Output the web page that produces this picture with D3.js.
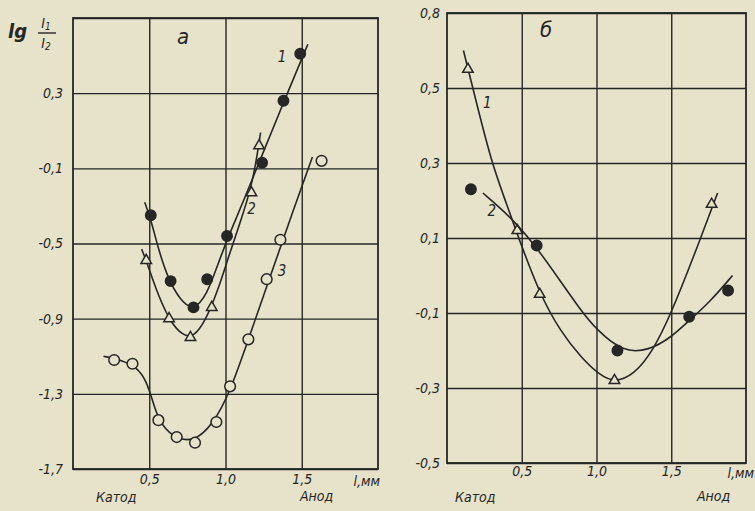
<!DOCTYPE html>
<html>
<head>
<meta charset="utf-8">
<script src="https://cdn.jsdelivr.net/npm/d3@7"></script>
<style>
  body { margin: 0; background: #e7e2ca; }
  svg { display: block; }
  text { font-family: "Liberation Sans Narrow", "DejaVu Sans Condensed", "Liberation Sans", sans-serif; font-style: italic; fill: #262626; }
</style>
</head>
<body>
<script>
const WIDTH = 755;
const HEIGHT = 511;
const INK = "#262626";
const PAPER = "#e7e2ca";

// x ticks, shared by both panels
const xTicks = [0.5, 1.0, 1.5];
const xTickLabels = ["0,5", "1,0", "1,5"];

// panel "a"
const aYTicks = [-1.7, -1.3, -0.9, -0.5, -0.1, 0.3, 0.7];
const aYTickLabels = ["-1,7", "-1,3", "-0,9", "-0,5", "-0,1", "0,3", ""];
const a1Points = [[0.51, -0.35], [0.64, -0.70], [0.79, -0.84], [0.88, -0.69], [1.01, -0.46], [1.24, -0.07], [1.38, 0.26], [1.49, 0.51]];
const a1Curve = [[0.47, -0.28], [0.51, -0.37], [0.56, -0.53], [0.62, -0.68], [0.70, -0.80], [0.79, -0.86], [0.88, -0.77], [0.95, -0.61], [1.02, -0.46], [1.13, -0.25], [1.24, -0.03], [1.39, 0.27], [1.54, 0.56]];
const a2Points = [[0.48, -0.59], [0.63, -0.90], [0.77, -1.00], [0.91, -0.84], [1.17, -0.23], [1.22, 0.02]];
const a2Curve = [[0.45, -0.53], [0.48, -0.59], [0.56, -0.78], [0.64, -0.92], [0.72, -0.99], [0.79, -1.00], [0.87, -0.91], [0.95, -0.75], [1.02, -0.57], [1.10, -0.38], [1.17, -0.20], [1.21, -0.02], [1.23, 0.09]];
const a3Curve = [[0.20, -1.10], [0.32, -1.12], [0.42, -1.16], [0.48, -1.23], [0.52, -1.33], [0.56, -1.44], [0.65, -1.53], [0.79, -1.56], [0.92, -1.46], [1.03, -1.29], [1.15, -1.01], [1.30, -0.66], [1.45, -0.31], [1.57, -0.04]];
const a3Points = [[0.27, -1.12], [0.39, -1.14], [0.56, -1.44], [0.68, -1.53], [0.80, -1.56], [0.94, -1.45], [1.03, -1.26], [1.15, -1.01], [1.27, -0.69], [1.36, -0.48], [1.63, -0.06]];

// panel "б"
const bYTicks = [-0.5, -0.3, -0.1, 0.1, 0.3, 0.5, 0.7];
const bYTickLabels = ["-0,5", "-0,3", "-0,1", "0,1", "0,3", "0,5", "0,8"];
const b1Points = [[0.14, 0.55], [0.47, 0.12], [0.62, -0.05], [1.12, -0.28], [1.77, 0.19]];
const b1Curve = [[0.11, 0.60], [0.21, 0.44], [0.30, 0.30], [0.39, 0.20], [0.47, 0.11], [0.62, -0.05], [0.76, -0.15], [0.90, -0.22], [1.02, -0.265], [1.12, -0.285], [1.25, -0.265], [1.38, -0.20], [1.50, -0.10], [1.64, 0.04], [1.81, 0.22]];
const b2Points = [[0.16, 0.23], [0.60, 0.08], [1.14, -0.20], [1.62, -0.11], [1.88, -0.04]];
const b2Curve = [[0.24, 0.22], [0.43, 0.155], [0.60, 0.075], [0.75, -0.01], [0.89, -0.09], [1.0, -0.145], [1.18, -0.205], [1.35, -0.2], [1.50, -0.165], [1.62, -0.12], [1.76, -0.07], [1.91, 0.0]];

const svg = d3.select("body").append("svg")
    .attr("width", WIDTH)
    .attr("height", HEIGHT);

svg.append("rect").attr("width", WIDTH).attr("height", HEIGHT).attr("fill", PAPER);

function drawPanel(cfg) {
    const x = d3.scaleLinear().domain([0, 2]).range([cfg.left, cfg.right]);
    const y = d3.scaleLinear().domain(cfg.yDomain).range([cfg.bottom, cfg.top]);
    const g = svg.append("g");

    // grid + tick labels come from the axes themselves
    const xAxis = g.append("g")
        .attr("transform", `translate(0,${cfg.bottom})`)
        .call(d3.axisBottom(x)
            .tickValues(xTicks)
            .tickSize(-(cfg.bottom - cfg.top))
            .tickPadding(cfg.xPad)
            .tickFormat((d, i) => xTickLabels[i]));
    const yAxis = g.append("g")
        .attr("transform", `translate(${cfg.left},0)`)
        .call(d3.axisLeft(y)
            .tickValues(cfg.yTicks)
            .tickSize(-(cfg.right - cfg.left))
            .tickPadding(cfg.yPad)
            .tickFormat((d, i) => cfg.yLabels[i]));

    [xAxis, yAxis].forEach(ax => {
        ax.select(".domain").remove();
        ax.selectAll(".tick line").attr("stroke", INK).attr("stroke-width", 1.4);
        ax.selectAll(".tick text")
            .attr("fill", INK)
            .style("font-size", "14px");
        ax.attr("font-family", null).attr("font-size", null);
    });

    g.append("rect")
        .attr("x", cfg.left).attr("y", cfg.top)
        .attr("width", cfg.right - cfg.left)
        .attr("height", cfg.bottom - cfg.top)
        .attr("fill", "none")
        .attr("stroke", INK)
        .attr("stroke-width", 1.8);

    // the drawn curves are smoothed fits, so a B-spline is closer than an interpolating one
    const line = d3.line()
        .x(d => x(d[0]))
        .y(d => y(d[1]))
        .curve(d3.curveBasis);

    cfg.series.forEach(s => {
        g.append("path")
            .attr("d", line(s.curve))
            .attr("fill", "none")
            .attr("stroke", INK)
            .attr("stroke-width", 1.6);

        const marks = g.append("g").selectAll("path")
            .data(s.points)
            .join("path")
            .attr("transform", d => `translate(${x(d[0])},${y(d[1])})`)
            .attr("stroke", INK)
            .attr("stroke-width", 1.5);
        if (s.marker === "dot") {
            marks.attr("d", d3.symbol(d3.symbolCircle, 85)).attr("fill", INK);
        } else if (s.marker === "ring") {
            marks.attr("d", d3.symbol(d3.symbolCircle, 90)).attr("fill", PAPER);
        } else {
            marks.attr("d", d3.symbol(d3.symbolTriangle, 48)).attr("fill", PAPER);
        }

        g.append("text")
            .attr("x", x(s.labelAt[0]))
            .attr("y", y(s.labelAt[1]))
            .attr("text-anchor", "middle")
            .attr("dominant-baseline", "middle")
            .style("font-size", "15px")
            .text(s.name);
    });

    // unit label at the right end of the x axis
    g.append("text")
        .attr("x", x(2) + cfg.unitDx)
        .attr("y", cfg.bottom + cfg.xPad + 12)
        .attr("text-anchor", "end")
        .style("font-size", "14px")
        .text("l,мм");

    g.append("text")
        .attr("x", cfg.cathodeX)
        .attr("y", 502)
        .style("font-size", "14px")
        .text("Катод");
    g.append("text")
        .attr("x", cfg.anodeX)
        .attr("y", 501)
        .style("font-size", "14px")
        .text("Анод");

    g.append("text")
        .attr("x", cfg.letter.x)
        .attr("y", cfg.letter.y)
        .attr("text-anchor", "middle")
        .style("font-size", "22px")
        .text(cfg.letter.t);
}

drawPanel({
    left: 73, right: 378, top: 18, bottom: 469,
    yDomain: [-1.7, 0.7], yTicks: aYTicks, yLabels: aYTickLabels,
    xPad: 5, yPad: 10, unitDx: 2,
    cathodeX: 96, anodeX: 300,
    letter: { x: 183, y: 44, t: "а" },
    series: [
        { name: "1", points: a1Points, curve: a1Curve, marker: "dot", labelAt: [1.37, 0.49] },
        { name: "2", points: a2Points, curve: a2Curve, marker: "tri", labelAt: [1.17, -0.32] },
        { name: "3", points: a3Points, curve: a3Curve, marker: "ring", labelAt: [1.37, -0.65] }
    ]
});

drawPanel({
    left: 447, right: 746, top: 13, bottom: 463,
    yDomain: [-0.5, 0.7], yTicks: bYTicks, yLabels: bYTickLabels,
    xPad: 3, yPad: 7, unitDx: 8,
    cathodeX: 455, anodeX: 697,
    letter: { x: 546, y: 37, t: "б" },
    series: [
        { name: "1", points: b1Points, curve: b1Curve, marker: "tri", labelAt: [0.27, 0.46] },
        { name: "2", points: b2Points, curve: b2Curve, marker: "dot", labelAt: [0.30, 0.17] }
    ]
});

// y axis title: lg I1/I2
const title = svg.append("g").attr("transform", "translate(8,38)");
title.append("text").attr("x", 0).attr("y", 0).style("font-size", "20px").style("font-weight", "bold").text("lg");
title.append("text").attr("x", 38).attr("y", -10).attr("text-anchor", "middle").style("font-size", "14px")
    .text("I").append("tspan").attr("dy", 2).style("font-size", "10px").text("1");
title.append("line").attr("x1", 30).attr("x2", 48).attr("y1", -5).attr("y2", -5)
    .attr("stroke", INK).attr("stroke-width", 1.4);
title.append("text").attr("x", 38).attr("y", 10).attr("text-anchor", "middle").style("font-size", "14px")
    .text("I").append("tspan").attr("dy", 2).style("font-size", "10px").text("2");
</script>
</body>
</html>
